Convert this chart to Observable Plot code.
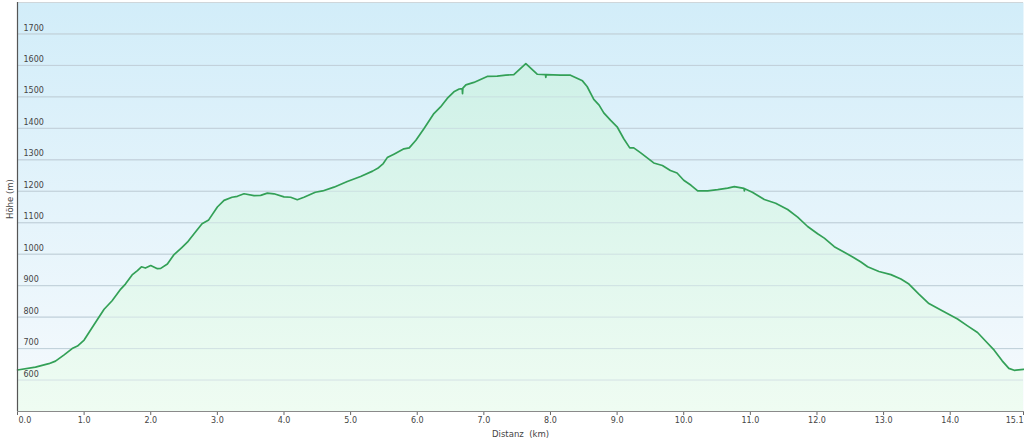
<!DOCTYPE html>
<html><head><meta charset="utf-8">
<script src="https://cdn.jsdelivr.net/npm/d3@7"></script>
<script src="https://cdn.jsdelivr.net/npm/@observablehq/plot@0.6"></script>
<style>html,body{margin:0;padding:0;background:#fff;} svg{display:block;}</style>
</head><body><div id="chart"></div>
<script>
const distKm = [0.00,0.27,0.47,0.57,0.70,0.82,0.90,1.00,1.17,1.30,1.42,1.55,1.62,1.72,1.80,1.86,1.92,2.00,2.10,2.15,2.25,2.35,2.47,2.55,2.65,2.77,2.87,3.00,3.10,3.22,3.30,3.40,3.55,3.65,3.75,3.85,4.00,4.10,4.20,4.30,4.47,4.58,4.75,4.95,5.15,5.33,5.42,5.49,5.55,5.65,5.80,5.88,5.98,6.10,6.25,6.35,6.45,6.55,6.63,6.675,6.68,6.685,6.73,6.85,7.05,7.20,7.33,7.45,7.63,7.80,7.925,7.93,7.935,8.15,8.30,8.48,8.55,8.65,8.73,8.80,8.90,9.00,9.10,9.19,9.25,9.35,9.55,9.68,9.80,9.90,10.00,10.11,10.21,10.36,10.51,10.66,10.76,10.905,10.91,10.915,11.03,11.21,11.38,11.56,11.71,11.86,12.01,12.11,12.26,12.41,12.53,12.66,12.76,12.93,13.11,13.26,13.38,13.53,13.68,13.88,14.11,14.26,14.41,14.53,14.66,14.78,14.88,14.96,15.10];
const elevM = [632,641,652,660,680,700,708,727,783,825,852,889,905,934,948,960,956,964,954,955,969,999,1022,1038,1065,1097,1109,1150,1171,1181,1184,1192,1186,1187,1194,1192,1182,1181,1173,1181,1197,1201,1213,1231,1247,1264,1275,1288,1307,1318,1335,1338,1362,1399,1447,1468,1495,1516,1525,1526,1510,1528,1538,1546,1565,1566,1569,1571,1606,1572,1571,1562,1571,1569,1569,1551,1533,1492,1474,1449,1426,1405,1367,1338,1338,1323,1290,1282,1266,1258,1235,1219,1201,1201,1205,1210,1215,1209,1201,1208,1197,1174,1162,1142,1118,1088,1065,1051,1024,1006,992,975,960,945,935,921,905,873,843,820,794,772,751,724,695,661,637,631,634];
const gridValues = [600,700,800,900,1000,1100,1200,1300,1400,1500,1600,1700];
const xTickValues = [0,1,2,3,4,5,6,7,8,9,10,11,12,13,14,15.1];
const xTickLabels = ["0.0","1.0","2.0","3.0","4.0","5.0","6.0","7.0","8.0","9.0","10.0","11.0","12.0","13.0","14.0","15.1"];
const xTitle = "Distanz\u00a0 (km)";
const yTitle = "Höhe (m)";

const profile = distKm.map((d, i) => ({d, e: elevM[i]}));
const ticks = xTickValues.map((v, i) => ({v, t: xTickLabels[i]}));
const font = "DejaVu Sans, Verdana, sans-serif";

const chart = Plot.plot({
  width: 1024, height: 446,
  marginTop: 2, marginBottom: 35, marginLeft: 17, marginRight: 1,
  style: {fontFamily: font, fontSize: "8px", background: "#fff", color: "#444"},
  x: {domain: [0, 15.1], axis: "bottom", ticks: xTickValues, tickSize: 4, tickFormat: () => "", label: null},
  y: {domain: [500, 1800], axis: null},
  marks: [
    Plot.frame({fill: "url(#bgGrad)", stroke: null}),
    Plot.ruleY(gridValues, {stroke: "#c2d1da", strokeWidth: 1}),
    Plot.areaY(profile, {x: "d", y1: 500, y2: "e", fill: "url(#areaGrad)"}),
    Plot.ruleY(gridValues, {stroke: "#c2d1da", strokeWidth: 1, strokeOpacity: 0.6}),
    Plot.lineY(profile, {x: "d", y: "e", stroke: "#33a057", strokeWidth: 1.7}),
    Plot.text(gridValues, {x: 0, y: d => d, text: d => String(d), textAnchor: "start", dx: 6, dy: -6, fill: "#444", fontSize: 8}),
    Plot.ruleY([1800], {stroke: "#cfd6da"}),
    Plot.ruleY([500], {stroke: "#8a8a8a"}),
    Plot.ruleX([0], {stroke: "#555", strokeWidth: 1.2}),
    Plot.text(ticks.slice(0, 1), {x: "v", text: "t", frameAnchor: "bottom", dy: 11, dx: 1, textAnchor: "start", fill: "#444"}),
    Plot.text(ticks.slice(1, -1), {x: "v", text: "t", frameAnchor: "bottom", dy: 11, textAnchor: "middle", fill: "#444"}),
    Plot.text(ticks.slice(-1), {x: "v", text: "t", frameAnchor: "bottom", dy: 11, textAnchor: "end", fill: "#444"}),
    Plot.text([xTitle], {frameAnchor: "bottom", dy: 25, fill: "#444", fontSize: 8.5}),
    Plot.text([yTitle], {frameAnchor: "left", dx: -7, dy: 12, rotate: -90, fill: "#444", fontSize: 8.5})
  ]
});

const svg = d3.select(chart);
const defs = svg.insert("defs", ":first-child");
const bg = defs.append("linearGradient").attr("id", "bgGrad").attr("gradientUnits", "userSpaceOnUse")
  .attr("x1", 0).attr("y1", 2).attr("x2", 0).attr("y2", 411);
bg.append("stop").attr("offset", "0%").attr("stop-color", "#d2edf9");
bg.append("stop").attr("offset", "100%").attr("stop-color", "#f6fafd");
const ar = defs.append("linearGradient").attr("id", "areaGrad").attr("gradientUnits", "userSpaceOnUse")
  .attr("x1", 0).attr("y1", 2).attr("x2", 0).attr("y2", 411);
ar.append("stop").attr("offset", "0%").attr("stop-color", "#c9efe6");
ar.append("stop").attr("offset", "100%").attr("stop-color", "#effcf2");
svg.selectAll("[aria-label='x-axis tick'] path, g[aria-label='x-axis'] path").attr("stroke", "#666");
document.getElementById("chart").appendChild(chart);
</script>
</body></html>
